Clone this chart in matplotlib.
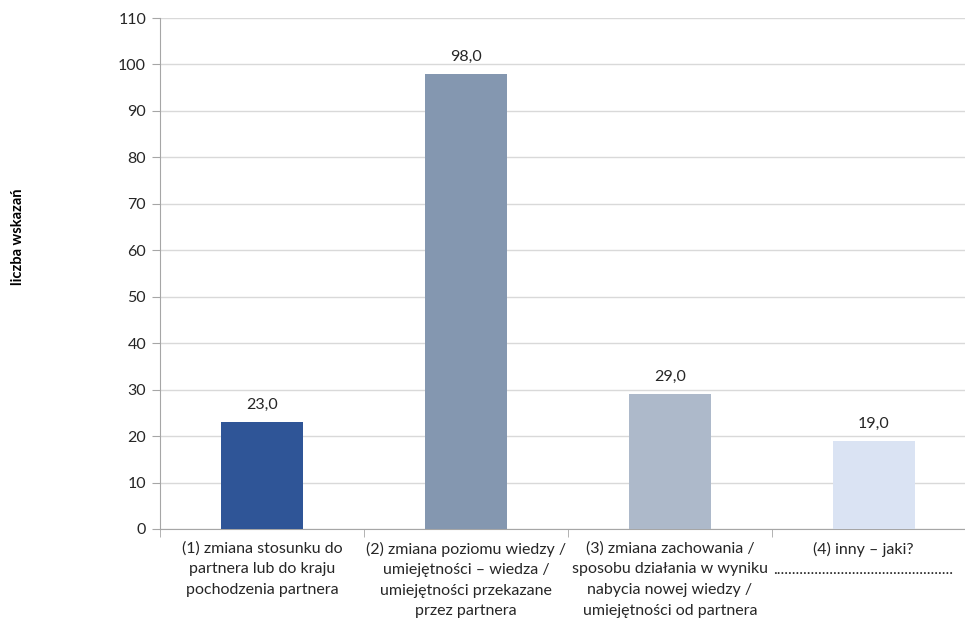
import matplotlib.pyplot as plt
import matplotlib.transforms as mtransforms
from matplotlib.ticker import MultipleLocator, FixedLocator

# dane
kategorie = [
    "(1) zmiana stosunku do\npartnera lub do kraju\npochodzenia partnera",
    "(2) zmiana poziomu wiedzy /\numiejętności – wiedza /\numiejętności przekazane\nprzez partnera",
    "(3) zmiana zachowania /\nsposobu działania w wyniku\nnabycia nowej wiedzy /\numiejętności od partnera",
    "(4) inny – jaki?\n" + "." * 48,
]
wartosci = [23.0, 98.0, 29.0, 19.0]
kolory = ["#2F5597", "#8497B0", "#ADB9CA", "#DAE3F3"]
etykieta_y = "liczba wskazań"

plt.rcParams['font.family'] = ['Lato', 'DejaVu Sans']

fig = plt.figure(figsize=(9.65, 6.22), dpi=100)
# wykres jest przycięty z prawej strony - oś wychodzi poza obraz
ax = fig.add_axes([160 / 965, 93 / 622, 816 / 965, 511 / 622])

x = range(len(wartosci))
bars = ax.bar(x, wartosci, width=0.4, color=kolory, zorder=3)

for xi, v in zip(x, wartosci):
    ax.text(xi, v + 2.2, f"{v:.1f}".replace(".", ","), ha="center", va="bottom",
            fontsize=11.5, color="#262626")

ax.set_xlim(-0.5, len(wartosci) - 0.5)
ax.set_ylim(0, 110)
ax.yaxis.set_major_locator(MultipleLocator(10))
ax.grid(axis="y", color="#D9D9D9", linewidth=1, zorder=0)

ax.set_xticks(list(x))
ax.set_xticklabels(kategorie, fontsize=11.5, color="#262626", linespacing=1.6, va="top")
ax.tick_params(axis="x", which="major", length=0, pad=9)
ax.xaxis.set_minor_locator(FixedLocator([i + 0.5 for i in range(-1, len(wartosci))]))
ax.tick_params(axis="x", which="minor", length=6, color="#A6A6A6")
ax.tick_params(axis="y", length=6, color="#A6A6A6", labelsize=11.5, labelcolor="#262626", pad=4)

# ostatnia etykieta przesunięta w lewo, żeby zmieściła się w obrazie
ostatnia = ax.get_xticklabels()[-1]
ostatnia.set_transform(ostatnia.get_transform() +
                       mtransforms.ScaledTranslation(-0.11, 0, fig.dpi_scale_trans))

for s in ["top", "right"]:
    ax.spines[s].set_visible(False)
for s in ["left", "bottom"]:
    ax.spines[s].set_color("#A6A6A6")

fig.text(18 / 965, 1 - 237 / 622, etykieta_y, rotation=90, ha="center", va="center",
         fontsize=10.5, fontweight="bold", color="#000000")

fig.savefig("out.png", dpi=100)
